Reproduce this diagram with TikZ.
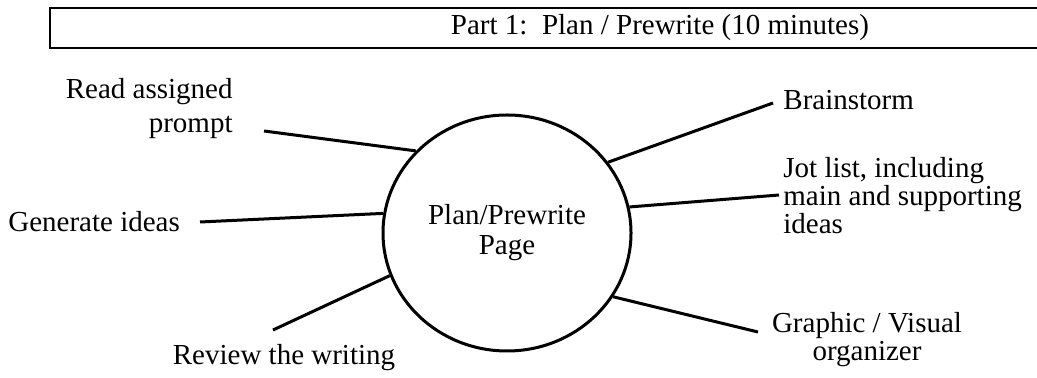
\documentclass[tikz,border=0pt]{standalone}
\usepackage{fontspec}
\setmainfont{Liberation Serif}
\usetikzlibrary{positioning,shapes.geometric}
\tikzset{
  lbl/.style={inner sep=0pt,font=\fontsize{14.5}{14}\selectfont},
  spoke/.style={line width=1.5pt},
  hub/.style={shape=ellipse,draw,line width=1.5pt,inner sep=0pt,
    minimum width=124pt,minimum height=118pt,align=center,
    font=\fontsize{14.5}{15}\selectfont}
}
\begin{document}
\begin{tikzpicture}[x=0.5pt,y=-0.5pt]
  \useasboundingbox (0,0) rectangle (1037,378);
  % banner across the top
  \draw [line width=1.2pt] (1037,8) -- (50,8) -- (50,48) -- (1037,48);
  \node (title) [lbl] at (660,28) {Part 1:\ \ Plan / Prewrite (10 minutes)};
  % centre
  \node (page) [hub] at (507,233) {Plan/Prewrite\\Page};
  % left side
  \node (read) [lbl,align=right,anchor=east,
    font=\fontsize{14.5}{17}\selectfont] at (233,109) {Read assigned\\prompt};
  \node (gen) [lbl,anchor=west] at (8,222) {Generate ideas};
  \node (review) [lbl] at (284,358) {Review the writing};
  % right side
  \node (brain) [lbl,anchor=west] at (783,100) {Brainstorm};
  \node (jot) [lbl,align=left,anchor=west] at (783,196)
    {Jot list, including\\main and supporting\\ideas};
  \node (graphic) [lbl,align=center] at (867,340) {Graphic / Visual\\organizer};
  % free ends of the spokes
  \coordinate (c-read) at (264,131);
  \coordinate (c-gen) at (200,222);
  \coordinate (c-review) at (273,330);
  \coordinate (c-brain) at (773,103);
  \coordinate (c-jot) at (779,195);
  \coordinate (c-graphic) at (758,332);
  \draw [spoke] (c-read) -- (page.138);
  \draw [spoke] (c-gen) -- (page.171);
  \draw [spoke] (c-review) -- (page.200);
  \draw [spoke] (c-brain) -- (page.35);
  \draw [spoke] (c-jot) -- (page.12);
  \draw [spoke] (c-graphic) -- (page.329);
\end{tikzpicture}
\end{document}
